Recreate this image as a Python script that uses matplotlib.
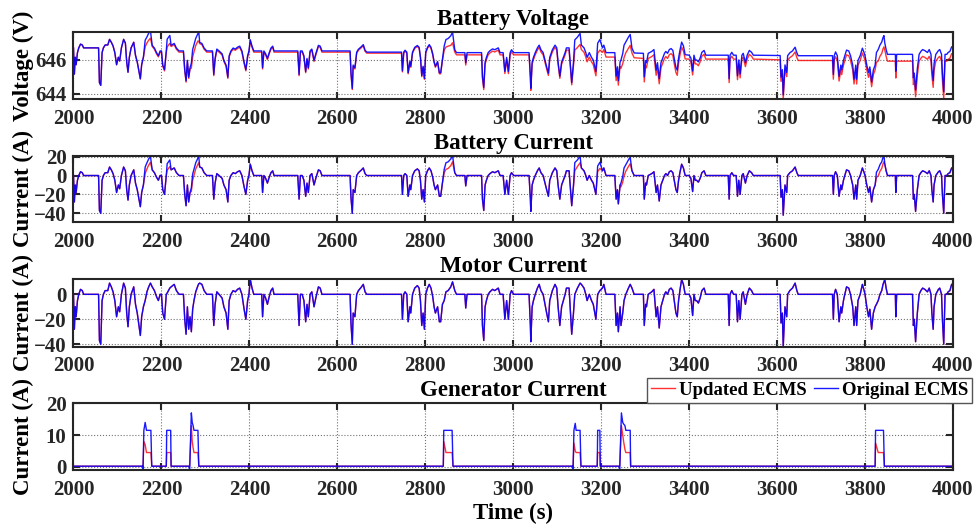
import matplotlib
matplotlib.use("Agg")
import matplotlib.pyplot as plt

# Drive-cycle samples (s) shared by voltage, battery current and motor current
t_drive = [
    2000, 2002, 2004, 2006, 2009, 2012, 2016, 2020, 2023, 2057,
    2059, 2062, 2065, 2068, 2072, 2078, 2082, 2086, 2090, 2094,
    2098, 2102, 2105, 2109, 2114, 2118, 2121, 2124, 2127, 2131,
    2137, 2141, 2145, 2149, 2152, 2155, 2159,
    2163, 2167, 2171, 2175, 2179, 2184, 2189, 2193, 2197, 2200,
    2203, 2207, 2211, 2213, 2216, 2219, 2222, 2229, 2234, 2240,
    2250, 2253, 2256, 2259, 2262, 2265, 2268, 2271, 2274, 2278,
    2283, 2285, 2287, 2292, 2297, 2303, 2316, 2319, 2322, 2326,
    2331, 2338, 2342, 2347, 2351, 2354, 2358, 2363, 2368, 2373,
    2378, 2383, 2388, 2392, 2396, 2399, 2402, 2406, 2410, 2428,
    2430, 2433, 2437, 2441, 2445, 2449, 2453, 2456,
    2510, 2513, 2516, 2520, 2524, 2528, 2531, 2534, 2538, 2542,
    2547, 2551, 2557, 2561, 2565, 2629, 2631, 2634, 2636, 2640,
    2644, 2648, 2655, 2659, 2663, 2667,
    2746, 2748, 2751, 2754, 2758, 2761, 2765, 2767, 2771, 2776,
    2782, 2786, 2789, 2792, 2795, 2798, 2801, 2805, 2809, 2813,
    2817, 2820, 2823, 2828, 2832, 2835, 2839, 2843, 2847, 2852,
    2858, 2862, 2867, 2871,
    2890, 2892, 2895, 2928, 2930, 2933, 2936, 2939, 2943, 2947,
    2953, 2958, 2966, 2970, 2977, 2981, 2985, 2989, 2993, 2996,
    3001, 3036, 3039, 3040, 3043, 3046, 3050, 3055, 3059, 3063,
    3068, 3076, 3080, 3083, 3089, 3095, 3099, 3102, 3106, 3110,
    3114, 3118, 3121, 3127, 3133,
    3137, 3140, 3146, 3152, 3155, 3161, 3165, 3168, 3173, 3178,
    3182, 3188, 3192, 3197, 3203, 3206, 3211, 3231, 3234, 3237,
    3239, 3243, 3245, 3249, 3252, 3256, 3262, 3266, 3270, 3275,
    3296, 3298, 3301, 3303, 3307, 3315, 3320, 3325, 3328, 3332,
    3336, 3340, 3344, 3347, 3351, 3355, 3359, 3363, 3366, 3370,
    3373, 3376, 3379, 3383, 3387, 3391, 3400, 3404, 3408, 3411,
    3414, 3417, 3421, 3425, 3429, 3434, 3438, 3489, 3491, 3493,
    3497, 3501, 3507, 3510, 3513, 3516, 3520, 3523, 3528, 3532,
    3537, 3542, 3546,
    3607, 3609, 3612, 3614, 3618, 3622, 3624, 3629, 3635, 3641,
    3645, 3648, 3726, 3728, 3730, 3733, 3737, 3741, 3745, 3747,
    3751, 3754, 3758, 3763, 3767, 3772, 3775, 3779, 3781, 3784,
    3789, 3794, 3798, 3800, 3804, 3808, 3811, 3815, 3819, 3823,
    3826, 3830, 3834, 3838, 3841, 3843, 3845, 3848, 3851, 3869,
    3870, 3872, 3908, 3910, 3912, 3915, 3919, 3923, 3927, 3931,
    3936, 3942, 3946, 3950, 3952, 3955, 3957, 3961, 3967, 3970,
    3974, 3976, 3979, 3982, 3986, 3989, 3993, 3997, 4000,
]

# Motor current (A), same for both strategies
motor_cur = [
    0, -28, -10, -18, -5, 0, 4, 3, 0, 0,
    -37, -40, -5, 0, 3, 3, 9, 6, 2, -5,
    -18, -10, -14, 0, 9, 5, -15, -26, -10, 0,
    6, -8, -15, -25, -33, -18, -10,
    -5, 2, 6, 9, 6, 3, -2, -5, 0, 0,
    -15, -20, 0, 1, 3, 5, 6, 8, 3, 0,
    0, -20, -32, -10, -28, -18, -30, -12, -5, 2,
    7, 8.5, 9, 8, 3, 0, 0, -25, -8, 2,
    0, -3, -10, -15, -28, -5, 0, 3, 2, 4,
    5, 0, -12, -20, -5, 0, 12, 5, 0, 0,
    -18, 0, -3, -8, -2, 3, 5, 0,
    0, -25, 0, 0, -5, -22, -8, -18, 0, 2,
    -10, -3, 6, 5, 0, 0, -23, -40, -15, -18,
    0, 3, 6, 8, 2, 0,
    0, -20, 0, 2, 0, -22, -10, -15, 0, 5,
    7, 5, -5, -25, -15, -28, 0, 5, 8, 5,
    -2, -10, -15, -10, -22, -22, -8, -5, 2, 3,
    6, 10, 3, 0,
    0, -11, 0, 0, -25, -37, -10, -5, 0, 2,
    4, 3, 5, 0, 0, -20, -5, -20, 0, 3,
    0, 0, -25, -38, -10, -5, 0, 5, 8, 3,
    0, -15, -22, -5, 3, 8, 5, -10, -25, -10,
    -5, 0, 5, 5, -32,
    -15, 0, 5, 9, 8, 5, 0, -5, 0, -5,
    -8, -20, 0, 3, 5, 8, 0, 0, -25, -15,
    -30, -10, -25, -15, -5, 0, 5, 8, 5, 0,
    0, -25, -8, -10, 0, 2, 4, -18, -10, -27,
    -10, -5, 0, 2, 0, 4, 5, 3, -5, -15,
    -18, -5, 3, 12, 8, 0, 0, -3, -17, 0,
    -5, -5, -7, -3, 3, 5, 0, 0, -25, 0,
    3, 0, 0, -22, -5, -20, 0, 2, -8, 0,
    5, 3, 0,
    0, -23, -15, -42, -10, -18, 0, 3, 5, 9,
    3, 0, 0, -20, 0, 4, 0, -22, -10, -15,
    -5, 0, 6, 5, 0, -10, -25, -10, -25, -5,
    0, 8, 3, 0, -10, -18, -12, -28, -15, -10,
    -8, -5, 0, 3, 8, 10, 12, 5, 0, 0,
    -18, 0, 0, -25, -20, -38, -15, 0, 3, 5,
    4, 2, 5, 0, -15, -28, -10, 0, 4, 5,
    0, -20, -40, 0, 0, 2, 3, 8, 8,
]

# Battery current (A)
batt_cur_orig = [
    0, -28, -10, -18, -5, 0, 4, 3, 0, 0,
    -37, -40, -5, 0, 3, 3, 9, 6, 2, -5,
    -18, -10, -14, 0, 9, 5, -15, -26, -10, 0,
    6, -8, -15, -25, -33, -18, -10,
    9, 13.5, 17.5, 20.5, 6, 3, -2, -5, 0, 0,
    -15, -20, 0, 12.5, 14.5, 16.5, 6, 8, 3, 0,
    0, -20, -32, -10, -28, -18, -13, 1.5, 6.5, 13.5,
    18.5, 20, 9, 8, 3, 0, 0, -25, -8, 2,
    0, -3, -10, -15, -28, -5, 0, 3, 2, 4,
    5, 0, -12, -20, -5, 0, 12, 5, 0, 0,
    -18, 0, -3, -8, -2, 3, 5, 0,
    0, -25, 0, 0, -5, -22, -8, -18, 0, 2,
    -10, -3, 6, 5, 0, 0, -23, -40, -15, -18,
    0, 3, 6, 8, 2, 0,
    0, -20, 0, 2, 0, -22, -10, -15, 0, 5,
    7, 5, -5, -25, -15, -28, 0, 5, 8, 5,
    -2, -10, -15, -10, -22, -22, -8, 6.5, 13.5, 14.5,
    17.5, 21.5, 3, 0,
    0, -11, 0, 0, -25, -37, -10, -5, 0, 2,
    4, 3, 5, 0, 0, -20, -5, -20, 0, 3,
    0, 0, -25, -38, -10, -5, 0, 5, 8, 3,
    0, -15, -22, -5, 3, 8, 5, -10, -25, -10,
    -5, 0, 5, 5, -32,
    -10, 13.7, 16.5, 20.5, 8, 5, 0, -5, 0, -5,
    -8, -20, 10, 14, 5, 8, 0, 0, -25, -15,
    -30, -10, -8, -1, 8, 11.5, 16.5, 19.5, 5, 0,
    0, -25, -8, -10, 0, 2, 4, -18, -10, -27,
    -10, -5, 0, 2, 0, 4, 5, 3, -5, -15,
    -18, -5, 3, 12, 8, 0, 0, -3, -17, 0,
    -5, -5, -7, -3, 3, 5, 0, 0, -25, 0,
    3, 0, 0, -22, -5, -20, 0, 2, -8, 0,
    5, 3, 0,
    0, -23, -15, -42, -10, -18, 0, 3, 5, 9,
    3, 0, 0, -20, 0, 4, 0, -22, -10, -15,
    -5, 0, 6, 5, 0, -10, -25, -10, -25, -5,
    0, 8, 3, 0, -10, -18, -12, -28, -15, -10,
    3.5, 6.5, 11.5, 14.5, 19.5, 21.5, 12, 5, 0, 0,
    -18, 0, 0, -25, -20, -38, -15, 0, 3, 5,
    4, 2, 5, 0, -15, -28, -10, 0, 4, 5,
    0, -20, -40, 0, 0, 2, 3, 8, 8,
]

batt_cur_upd = [
    0, -28, -10, -18, -5, 0, 4, 3, 0, 0,
    -37, -40, -5, 0, 3, 3, 9, 6, 2, -5,
    -18, -10, -14, 0, 9, 5, -15, -26, -10, 0,
    6, -8, -15, -25, -33, -18, -10,
    2, 7, 11, 14, 6, 3, -2, -5, 0, 0,
    -15, -20, 0, 5.5, 7.5, 9.5, 6, 8, 3, 0,
    0, -20, -32, -10, -28, -18, -17, -5, 0, 7,
    12, 13.5, 9, 8, 3, 0, 0, -25, -8, 2,
    0, -3, -10, -15, -28, -5, 0, 3, 2, 4,
    5, 0, -12, -20, -5, 0, 12, 5, 0, 0,
    -18, 0, -3, -8, -2, 3, 5, 0,
    0, -25, 0, 0, -5, -22, -8, -18, 0, 2,
    -10, -3, 6, 5, 0, 0, -23, -40, -15, -18,
    0, 3, 6, 8, 2, 0,
    0, -20, 0, 2, 0, -22, -10, -15, 0, 5,
    7, 5, -5, -25, -15, -28, 0, 5, 8, 5,
    -2, -10, -15, -10, -22, -22, -8, 3, 6.5, 7.5,
    10.5, 14.5, 3, 0,
    0, -11, 0, 0, -25, -37, -10, -5, 0, 2,
    4, 3, 5, 0, 0, -20, -5, -20, 0, 3,
    0, 0, -25, -38, -10, -5, 0, 5, 8, 3,
    0, -15, -22, -5, 3, 8, 5, -10, -25, -10,
    -5, 0, 5, 5, -32,
    -12, 5, 9.5, 13.5, 8, 5, 0, -5, 0, -5,
    -8, -20, 4, 7.5, 5, 8, 0, 0, -25, -15,
    -30, -10, -12, -7, -0.5, 4.5, 9.5, 12.5, 5, 0,
    0, -25, -8, -10, 0, 2, 4, -18, -10, -27,
    -10, -5, 0, 2, 0, 4, 5, 3, -5, -15,
    -18, -5, 3, 12, 8, 0, 0, -3, -17, 0,
    -5, -5, -7, -3, 3, 5, 0, 0, -25, 0,
    3, 0, 0, -22, -5, -20, 0, 2, -8, 0,
    5, 3, 0,
    0, -23, -15, -42, -10, -18, 0, 3, 5, 9,
    3, 0, 0, -20, 0, 4, 0, -22, -10, -15,
    -5, 0, 6, 5, 0, -10, -25, -10, -25, -5,
    0, 8, 3, 0, -10, -18, -12, -28, -15, -10,
    -2, -0.5, 4.5, 7.5, 12.5, 14.5, 12, 5, 0, 0,
    -18, 0, 0, -25, -20, -38, -15, 0, 3, 5,
    4, 2, 5, 0, -15, -28, -10, 0, 4, 5,
    0, -20, -40, 0, 0, 2, 3, 8, 8,
]

# Battery voltage (V)
batt_volt_orig = [
    646.70, 645.16, 646.15, 645.71, 646.42, 646.70, 646.92, 646.87, 646.70, 646.70,
    644.66, 644.50, 646.42, 646.70, 646.87, 646.87, 647.20, 647.03, 646.81, 646.42,
    645.71, 646.15, 645.93, 646.70, 647.20, 646.98, 645.87, 645.27, 646.15, 646.70,
    647.03, 646.26, 645.87, 645.32, 644.88, 645.71, 646.15,
    647.15, 647.34, 647.56, 647.70, 646.85, 646.69, 646.41, 646.24, 646.52, 646.52,
    645.69, 645.42, 646.52, 647.21, 647.32, 647.43, 646.85, 646.96, 646.69, 646.52,
    646.52, 645.42, 644.76, 645.97, 644.98, 645.53, 645.80, 646.60, 646.88, 647.26,
    647.54, 647.62, 647.02, 646.96, 646.69, 646.52, 646.52, 645.14, 646.08, 646.63,
    646.52, 646.35, 645.97, 645.69, 644.98, 646.24, 646.52, 646.69, 646.63, 646.74,
    646.80, 646.52, 645.86, 645.42, 646.24, 646.52, 647.18, 646.80, 646.52, 646.52,
    645.53, 646.52, 646.35, 646.08, 646.41, 646.69, 646.80, 646.52,
    646.52, 645.14, 646.52, 646.52, 646.24, 645.31, 646.08, 645.53, 646.52, 646.63,
    645.97, 646.35, 646.85, 646.80, 646.52, 646.52, 645.25, 644.32, 645.69, 645.53,
    646.45, 646.62, 646.78, 646.89, 646.56, 646.45,
    646.45, 645.35, 646.45, 646.56, 646.45, 645.24, 645.90, 645.62, 646.45, 646.73,
    646.84, 646.73, 646.17, 645.07, 645.62, 644.91, 646.45, 646.73, 646.89, 646.73,
    646.34, 645.90, 645.62, 645.90, 645.24, 645.24, 646.01, 646.81, 647.19, 647.25,
    647.41, 647.63, 646.59, 646.42,
    646.42, 645.82, 646.42, 646.42, 645.04, 644.38, 645.87, 646.14, 646.42, 646.53,
    646.64, 646.59, 646.70, 646.42, 646.42, 645.32, 646.14, 645.32, 646.42, 646.59,
    646.42, 646.42, 645.04, 644.33, 645.87, 646.14, 646.42, 646.70, 646.86, 646.59,
    646.42, 645.59, 645.21, 646.14, 646.59, 646.86, 646.70, 645.87, 645.04, 645.87,
    646.14, 646.42, 646.70, 646.70, 644.66,
    645.87, 647.17, 647.33, 647.55, 646.86, 646.70, 646.42, 646.14, 646.42, 646.14,
    645.98, 645.32, 646.97, 647.19, 646.70, 646.86, 646.42, 646.42, 645.04, 645.59,
    644.77, 645.87, 645.98, 646.37, 646.86, 647.05, 647.33, 647.49, 646.68, 646.40,
    646.38, 645.00, 645.94, 645.83, 646.38, 646.49, 646.60, 645.39, 645.83, 644.89,
    645.83, 646.10, 646.38, 646.49, 646.38, 646.60, 646.66, 646.55, 646.10, 645.55,
    645.39, 646.10, 646.55, 647.04, 646.82, 646.30, 646.27, 646.10, 645.34, 646.27,
    645.99, 645.99, 645.88, 646.10, 646.44, 646.55, 646.27, 646.27, 644.89, 646.27,
    646.44, 646.27, 646.27, 645.06, 645.99, 645.17, 646.27, 646.38, 645.83, 646.27,
    646.55, 646.44, 646.27,
    646.25, 644.98, 645.42, 643.94, 645.70, 645.26, 646.24, 646.41, 646.52, 646.74,
    646.41, 646.24, 646.24, 645.14, 646.24, 646.46, 646.24, 645.03, 645.69, 645.41,
    645.96, 646.24, 646.57, 646.52, 646.24, 645.69, 644.86, 645.69, 644.86, 645.96,
    646.24, 646.68, 646.41, 646.24, 645.69, 645.25, 645.58, 644.70, 645.41, 645.69,
    646.43, 646.60, 646.87, 647.04, 647.31, 647.42, 646.98, 646.60, 646.32, 646.32,
    645.33, 646.32, 646.32, 644.94, 645.22, 644.23, 645.49, 646.32, 646.49, 646.60,
    646.54, 646.43, 646.60, 646.32, 645.49, 644.78, 645.77, 646.32, 646.54, 646.60,
    646.32, 645.22, 644.12, 646.32, 646.32, 646.43, 646.49, 646.76, 646.76,
]

batt_volt_upd = [
    646.70, 645.16, 646.15, 645.71, 646.42, 646.70, 646.92, 646.87, 646.70, 646.70,
    644.66, 644.50, 646.42, 646.70, 646.87, 646.87, 647.20, 647.03, 646.81, 646.42,
    645.71, 646.15, 645.93, 646.70, 647.20, 646.98, 645.87, 645.27, 646.15, 646.70,
    647.03, 646.26, 645.87, 645.32, 644.88, 645.71, 646.15,
    646.76, 646.99, 647.15, 647.27, 646.78, 646.62, 646.34, 646.17, 646.45, 646.45,
    645.62, 645.35, 646.45, 646.75, 646.86, 646.97, 646.78, 646.89, 646.62, 646.45,
    646.45, 645.35, 644.69, 645.90, 644.91, 645.46, 645.51, 646.17, 646.45, 646.84,
    647.11, 647.08, 646.95, 646.89, 646.62, 646.45, 646.45, 645.07, 646.01, 646.56,
    646.45, 646.28, 645.90, 645.62, 644.91, 646.17, 646.45, 646.62, 646.56, 646.67,
    646.73, 646.45, 645.79, 645.35, 646.17, 646.45, 647.11, 646.73, 646.45, 646.45,
    645.46, 646.45, 646.28, 646.01, 646.34, 646.62, 646.73, 646.45,
    646.45, 645.07, 646.45, 646.45, 646.17, 645.24, 646.01, 645.46, 646.45, 646.56,
    645.90, 646.28, 646.78, 646.73, 646.45, 646.45, 645.18, 644.25, 645.62, 645.46,
    646.39, 646.56, 646.72, 646.83, 646.50, 646.39,
    646.39, 645.29, 646.39, 646.50, 646.39, 645.18, 645.84, 645.56, 646.39, 646.67,
    646.78, 646.67, 646.11, 645.01, 645.56, 644.85, 646.39, 646.67, 646.83, 646.67,
    646.28, 645.84, 645.56, 645.84, 645.18, 645.18, 645.95, 646.56, 646.75, 646.80,
    646.85, 647.00, 646.46, 646.29,
    646.29, 645.69, 646.29, 646.29, 644.91, 644.25, 645.74, 646.01, 646.29, 646.40,
    646.51, 646.46, 646.57, 646.29, 646.29, 645.19, 646.01, 645.19, 646.29, 646.46,
    646.29, 646.29, 644.91, 644.20, 645.74, 646.01, 646.29, 646.57, 646.73, 646.46,
    646.29, 645.46, 645.08, 646.01, 646.46, 646.73, 646.57, 645.74, 644.91, 645.74,
    646.01, 646.29, 646.57, 646.57, 644.53,
    645.63, 646.57, 646.72, 646.90, 646.60, 646.44, 646.16, 645.88, 646.16, 645.88,
    645.72, 645.06, 646.38, 646.57, 646.44, 646.60, 646.16, 646.16, 644.78, 645.33,
    644.51, 645.61, 645.50, 645.77, 646.13, 646.41, 646.68, 646.85, 646.40, 646.12,
    646.08, 644.70, 645.64, 645.53, 646.08, 646.19, 646.30, 645.09, 645.53, 644.59,
    645.53, 645.80, 646.08, 646.19, 646.08, 646.30, 646.36, 646.25, 645.80, 645.25,
    645.09, 645.80, 646.25, 646.74, 646.52, 646.05, 646.04, 645.87, 645.11, 646.04,
    645.76, 645.76, 645.65, 645.87, 646.21, 646.32, 646.04, 646.04, 644.66, 646.04,
    646.21, 646.04, 646.04, 644.83, 645.76, 644.94, 646.04, 646.15, 645.60, 646.04,
    646.32, 646.21, 646.04,
    646.00, 644.73, 645.17, 643.69, 645.45, 645.01, 645.96, 646.13, 646.24, 646.46,
    646.13, 645.96, 645.96, 644.86, 645.96, 646.18, 645.96, 644.75, 645.41, 645.13,
    645.68, 645.96, 646.29, 646.24, 645.96, 645.41, 644.58, 645.41, 644.58, 645.68,
    645.96, 646.40, 646.13, 645.96, 645.41, 644.97, 645.30, 644.42, 645.13, 645.41,
    645.85, 645.93, 646.21, 646.37, 646.65, 646.76, 646.58, 646.20, 645.92, 645.92,
    644.93, 645.92, 645.92, 644.54, 644.82, 643.83, 645.09, 645.92, 646.09, 646.20,
    646.14, 646.03, 646.20, 645.92, 645.09, 644.38, 645.37, 645.92, 646.14, 646.20,
    645.92, 644.82, 643.72, 645.92, 645.92, 646.03, 646.09, 646.36, 646.36,
]

# Generator current (A), own time base
t_gen = [
    2000, 2157, 2158, 2160, 2163, 2166, 2176, 2178, 2211, 2212,
    2221, 2222, 2263, 2264, 2268, 2270, 2272, 2274, 2283, 2285,
    2841, 2842, 2845, 2847, 2861, 2863, 3135, 3136, 3138, 3141,
    3143, 3152, 3154, 3191, 3192, 3197, 3198, 3241, 3242, 3246,
    3249, 3251, 3254, 3256, 3266, 3267, 3823, 3824, 3827, 3830,
    3842, 3844, 4000,
]
gen_cur_orig = [
    0.2, 0.2, -2, 11.5, 14, 11.5, 11.5, 0.2, 0.2, 11.5,
    11.5, 0.2, 0.2, -2, 17, 14, 13, 11.5, 11.5, 0.2,
    0.2, 11.5, 11.5, 11.5, 11.5, 0.2, 0.2, -2, 11.5, 13.7,
    11.5, 11.5, 0.2, 0.2, 11.5, 11.5, 0.2, 0.2, -2, 17,
    14, 13.5, 13, 11.5, 11.5, 0.2, 0.2, 11.5, 11.5, 11.5,
    11.5, 0.2, 0.2,
]
gen_cur_upd = [
    0.2, 0.2, 0.2, 8, 7, 4.5, 4.5, 0.2, 0.2, 4.5,
    4.5, 0.2, 0.2, 0.2, 13, 8, 6, 4.5, 4.5, 0.2,
    0.2, 8, 6, 4.5, 4.5, 0.2, 0.2, 0.2, 7.5, 5,
    4.5, 4.5, 0.2, 0.2, 4.5, 4.5, 0.2, 0.2, 0.2, 13,
    10, 8, 5.5, 4.5, 4.5, 0.2, 0.2, 7.5, 6, 4.5,
    4.5, 0.2, 0.2,
]

plt.rcParams["font.family"] = ["Liberation Serif", "DejaVu Serif"]
plt.rcParams["font.weight"] = "bold"
plt.rcParams["axes.titleweight"] = "bold"
plt.rcParams["axes.labelweight"] = "bold"

fig = plt.figure(figsize=(9.76, 5.29), dpi=100)

panels = [
    ("Battery Voltage", "Voltage (V)", t_drive, batt_volt_upd, batt_volt_orig,
     (643.7, 647.65), [644, 646], [0.0753, 0.8129, 0.9011, 0.1272]),
    ("Battery Current", "Current (A)", t_drive, batt_cur_upd, batt_cur_orig,
     (-49.5, 21), [-40, -20, 0, 20], [0.0753, 0.5798, 0.9011, 0.1259]),
    ("Motor Current", "Current (A)", t_drive, motor_cur, motor_cur,
     (-42, 12.3), [-40, -20, 0], [0.0753, 0.3446, 0.9011, 0.1280]),
    ("Generator Current", "Current (A)", t_gen, gen_cur_upd, gen_cur_orig,
     (-1, 20.2), [0, 10, 20], [0.0753, 0.1115, 0.9011, 0.1272]),
]

axes = []
for title, ylab, t, upd, orig, ylim, yticks, rect in panels:
    ax = fig.add_axes(rect)
    ax.plot(t, upd, color="red", lw=1.0, alpha=0.8, label="Updated ECMS")
    ax.plot(t, orig, color="blue", lw=1.0, alpha=0.9, label="Original ECMS")
    ax.set_xlim(2000, 4000)
    ax.set_ylim(*ylim)
    ax.set_xticks(range(2000, 4001, 200))
    ax.set_yticks(yticks)
    ax.grid(True, linestyle=":", color="0.45", linewidth=0.8)
    ax.tick_params(direction="in", length=5, width=1.5, top=True, right=True,
                   labelsize=15, colors="#262626")
    ax.tick_params(axis="x", pad=7)
    ax.tick_params(axis="y", pad=5)
    for sp in ax.spines.values():
        sp.set_linewidth(1.5)
        sp.set_color("#262626")
    ax.set_title(title, fontsize=16.5, fontweight="bold", pad=5)
    ax.set_ylabel(ylab, fontsize=16.5, fontweight="bold")
    ax.yaxis.set_label_coords(-0.045, 0.5)
    axes.append(ax)

axes[-1].set_xlabel("Time (s)", fontsize=16.5, fontweight="bold", labelpad=2)
leg = axes[-1].legend(loc="upper right", bbox_to_anchor=(1.0216, 1.367), ncol=2,
                      fontsize=13.5, frameon=True, fancybox=False, framealpha=1,
                      edgecolor="#555555", borderaxespad=0, borderpad=0.2,
                      handlelength=1.3, handletextpad=0.2, columnspacing=0.4)
leg.get_frame().set_linewidth(1.0)

fig.savefig("out.png", dpi=100, facecolor="white")
